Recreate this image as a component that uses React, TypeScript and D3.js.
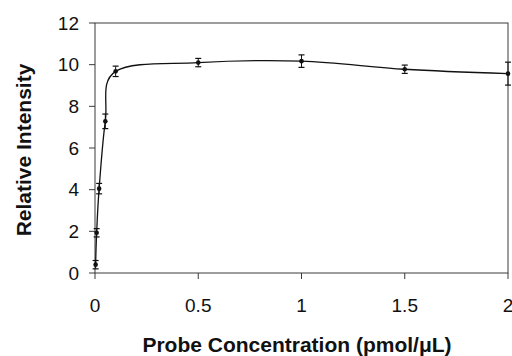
import React from "react";
import * as d3 from "d3";

// values
const concentration = [0.003, 0.008, 0.02, 0.05, 0.1, 0.5, 1, 1.5, 2];
const intensity = [0.4, 1.93, 4.05, 7.28, 9.68, 10.1, 10.17, 9.78, 9.57];
const errors = [0.2, 0.2, 0.25, 0.35, 0.25, 0.2, 0.3, 0.2, 0.55];
const xTicks = [0, 0.5, 1, 1.5, 2];
const yTicks = [0, 2, 4, 6, 8, 10, 12];

const App = () => {
  const width = 512;
  const height = 356;
  const margin = { top: 23, right: 4, bottom: 83, left: 95 };
  const fontFamily = "'Liberation Sans', Arial, sans-serif";
  const frameColor = "#3a3a3a";
  const lineColor = "#111";
  const tickFontSize = 19;
  const titleFontSize = 21;

  const x = d3.scaleLinear().domain([0, 2]).range([margin.left, width - margin.right]);
  const y = d3.scaleLinear().domain([0, 12]).range([height - margin.bottom, margin.top]);

  const points = concentration.map((c, i) => ({ c, v: intensity[i], e: errors[i] }));

  // smoothed line, like the spreadsheet's smooth scatter
  const line = d3
    .line<{ c: number; v: number }>()
    .x(d => x(d.c))
    .y(d => y(d.v))
    .curve(d3.curveCardinal.tension(0));

  const x0 = margin.left;
  const x1 = width - margin.right;
  const y0 = height - margin.bottom;
  const y1 = margin.top;

  return (
    <svg width={width} height={height} style={{ position: "absolute", left: 0, top: 0, background: "#fff" }}>
      {/* frame */}
      <rect x={x0} y={y1} width={x1 - x0} height={y0 - y1} fill="none" stroke={frameColor} strokeWidth={1} />

      {/* y axis */}
      {yTicks.map(t => (
        <g key={"y" + t}>
          <line x1={x0 - 6} x2={x0} y1={y(t)} y2={y(t)} stroke={frameColor} />
          <text x={79} y={y(t)} dy="0.35em" textAnchor="end" fontSize={tickFontSize} fontFamily={fontFamily} fill="#111">
            {t}
          </text>
        </g>
      ))}

      {/* x axis */}
      {xTicks.map(t => (
        <g key={"x" + t}>
          <line x1={x(t)} x2={x(t)} y1={y0} y2={y0 + 6} stroke={frameColor} />
          <text x={x(t)} y={312} textAnchor="middle" fontSize={tickFontSize} fontFamily={fontFamily} fill="#111">
            {t}
          </text>
        </g>
      ))}

      {/* curve */}
      <path d={line(points) || ""} fill="none" stroke={lineColor} strokeWidth={1.3} />

      {/* error bars and markers */}
      {points.map((d, i) => (
        <g key={"p" + i}>
          <line x1={x(d.c)} x2={x(d.c)} y1={y(d.v - d.e)} y2={y(d.v + d.e)} stroke={lineColor} strokeWidth={1} />
          <line x1={x(d.c) - 3} x2={x(d.c) + 3} y1={y(d.v - d.e)} y2={y(d.v - d.e)} stroke={lineColor} strokeWidth={1.2} />
          <line x1={x(d.c) - 3} x2={x(d.c) + 3} y1={y(d.v + d.e)} y2={y(d.v + d.e)} stroke={lineColor} strokeWidth={1.2} />
          <circle cx={x(d.c)} cy={y(d.v)} r={2.3} fill={lineColor} />
        </g>
      ))}

      {/* axis titles */}
      <text
        transform={`translate(31,150) rotate(-90)`}
        textAnchor="middle"
        fontSize={titleFontSize}
        fontWeight="bold"
        fontFamily={fontFamily}
        fill="#111"
      >
        Relative Intensity
      </text>
      <text x={297} y={352} textAnchor="middle" fontSize={titleFontSize} fontWeight="bold" fontFamily={fontFamily} fill="#111">
        Probe Concentration (pmol/μL)
      </text>
    </svg>
  );
};

export default App;
